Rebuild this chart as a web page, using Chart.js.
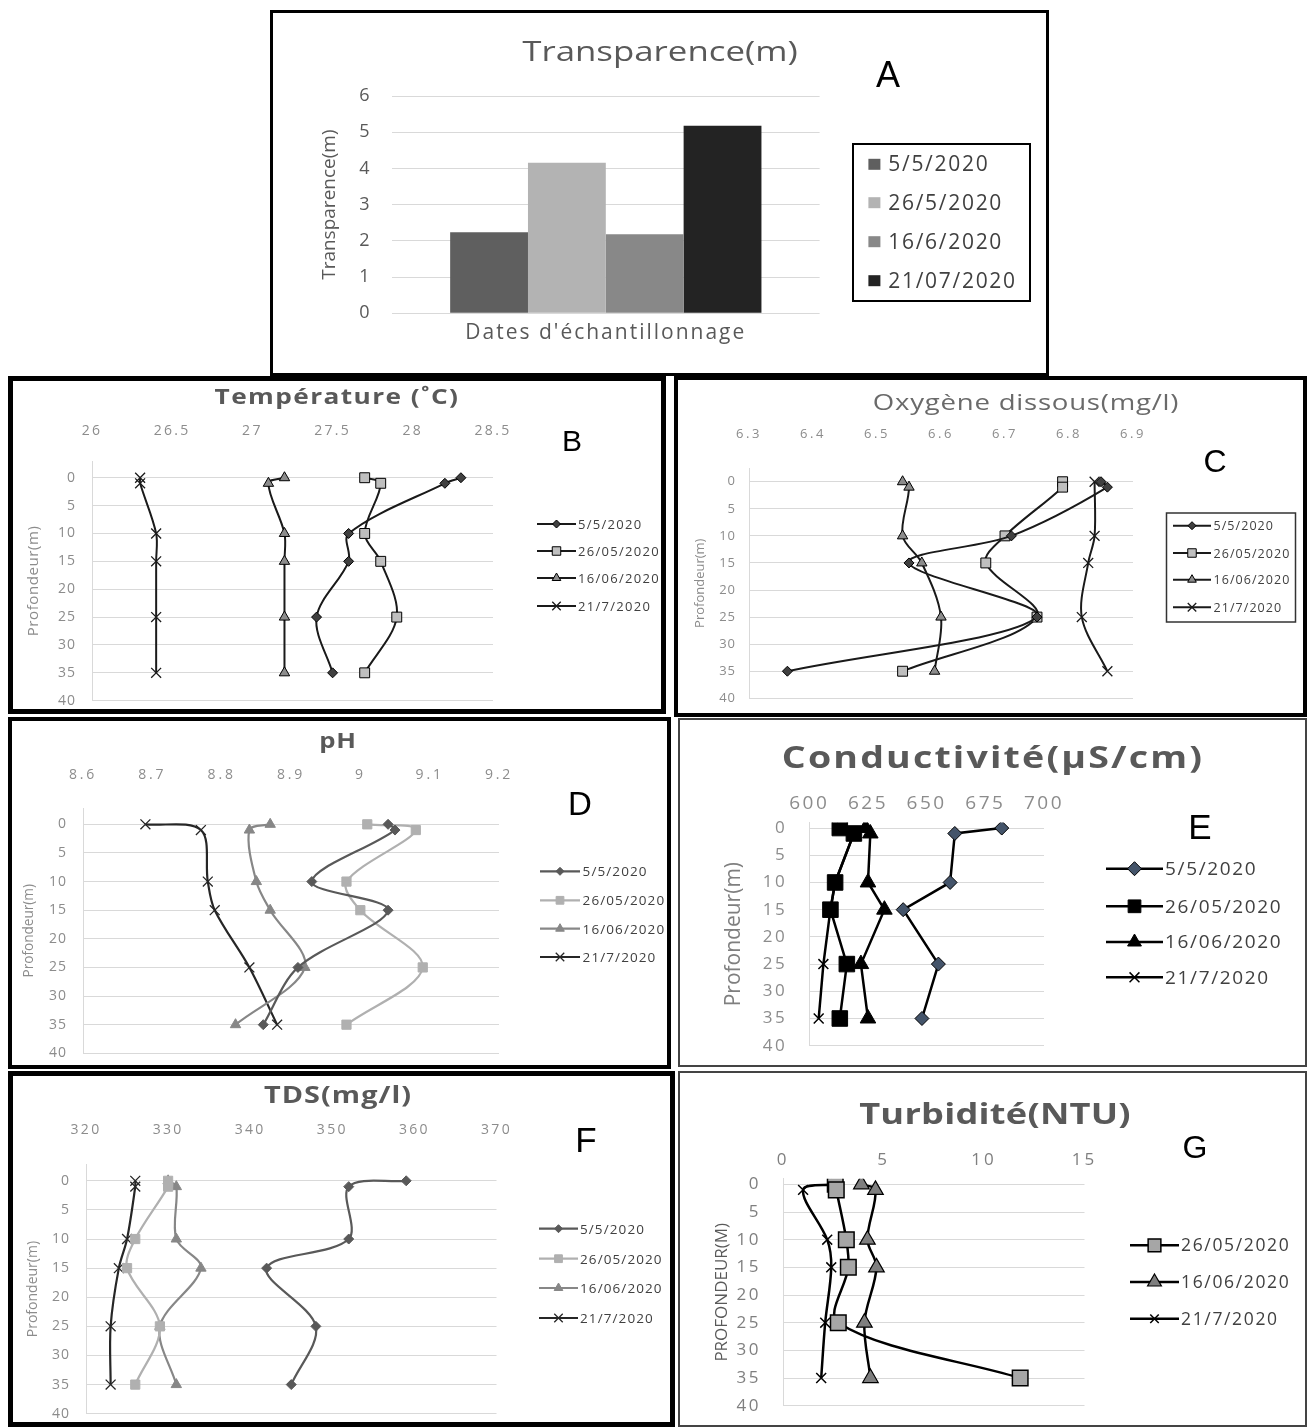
<!DOCTYPE html>
<html>
<head>
<meta charset="utf-8">
<script src="https://cdn.jsdelivr.net/npm/chart.js"></script>
<style>
  html, body { margin: 0; padding: 0; background: #fff; }
  body { width: 1307px; height: 1427px; position: relative; overflow: hidden; font-family: 'Open Sans', sans-serif; }
  .panel { position: absolute; box-sizing: border-box; border-style: solid; border-color: #000; }
  .panel canvas { position: absolute; left: 0; top: 0; }
  .lbl { position: absolute; transform: translate(-50%, -50%); white-space: nowrap; line-height: 1; color: #595959; }
  .big { position: absolute; transform: translate(-50%, -50%); line-height: 1; color: #000; font-family: 'Liberation Sans', sans-serif; }
</style>
</head>
<body>

<div class="panel" style="left:270px;top:10px;width:779px;height:366px;border-width:3px"><canvas id="cA" width="773" height="360"></canvas></div>
<div class="panel" style="left:8px;top:376px;width:658px;height:338px;border-width:5px"><canvas id="cB" width="648" height="328"></canvas></div>
<div class="panel" style="left:674px;top:376px;width:633px;height:341px;border-width:4px"><canvas id="cC" width="625" height="333"></canvas></div>
<div class="panel" style="left:8px;top:717px;width:663px;height:352px;border-width:4px"><canvas id="cD" width="655" height="344"></canvas></div>
<div class="panel" style="left:678px;top:718px;width:629px;height:349px;border-width:2px;border-color:#444"><canvas id="cE" width="625" height="345"></canvas></div>
<div class="panel" style="left:8px;top:1071px;width:667px;height:356px;border-width:5px"><canvas id="cF" width="657" height="346"></canvas></div>
<div class="panel" style="left:678px;top:1071px;width:629px;height:356px;border-width:2px;border-color:#444"><canvas id="cG" width="625" height="352"></canvas></div>

<div class="lbl" style="left:660px;top:50px;font-size:28px" data-w="276">Transparence(m)</div>
<div class="big" style="left:888px;top:75px;font-size:36px">A</div>
<div class="lbl" style="left:337px;top:396px;font-size:21px;font-weight:bold" data-w="245">Température (˚C)</div>
<div class="big" style="left:572px;top:441px;font-size:30px">B</div>
<div class="lbl" style="left:1026px;top:401px;font-size:22px;color:#6a6a6a" data-w="306">Oxygène dissous(mg/l)</div>
<div class="big" style="left:1215px;top:461px;font-size:32px">C</div>
<div class="lbl" style="left:338px;top:740px;font-size:21px;font-weight:bold" data-w="38">pH</div>
<div class="big" style="left:580px;top:803px;font-size:33px">D</div>
<div class="lbl" style="left:993px;top:757px;font-size:30px;font-weight:bold" data-w="422">Conductivité(µS/cm)</div>
<div class="big" style="left:1200px;top:826px;font-size:35px">E</div>
<div class="lbl" style="left:338px;top:1094px;font-size:23px;font-weight:bold" data-w="148">TDS(mg/l)</div>
<div class="big" style="left:586px;top:1139px;font-size:35px">F</div>
<div class="lbl" style="left:995px;top:1112px;font-size:29px;font-weight:bold" data-w="272">Turbidité(NTU)</div>
<div class="big" style="left:1195px;top:1147px;font-size:32px">G</div>

<script>
// profondeurs de prélèvement (m)
const depths = [0, 1, 10, 15, 25, 35];
const depthTicks = [0, 5, 10, 15, 20, 25, 30, 35, 40];
const profileDates = ['5/5/2020', '26/05/2020', '16/06/2020', '21/7/2020'];

// A - transparence
const transDates = ['5/5/2020', '26/5/2020', '16/6/2020', '21/07/2020'];
const transValues = [2.24, 4.16, 2.18, 5.18];

// B - température (°C)
const temp0505 = [28.3, 28.2, 27.6, 27.6, 27.4, 27.5];
const temp2605 = [27.7, 27.8, 27.7, 27.8, 27.9, 27.7];
const temp1606 = [27.2, 27.1, 27.2, 27.2, 27.2, 27.2];
const temp2107 = [26.3, 26.3, 26.4, 26.4, 26.4, 26.4];

// C - oxygène dissous (mg/l)
const oxy0505 = [6.85, 6.86, 6.71, 6.55, 6.75, 6.36];
const oxy2605 = [6.79, 6.79, 6.70, 6.67, 6.75, 6.54];
const oxy1606 = [6.54, 6.55, 6.54, 6.57, 6.60, 6.59];
const oxy2107 = [6.84, null, 6.84, 6.83, 6.82, 6.86];

// D - pH
const ph0505 = [9.04, 9.05, 8.93, 9.04, 8.91, 8.86];
const ph2605 = [9.01, 9.08, 8.98, 9.00, 9.09, 8.98];
const ph1606 = [8.87, 8.84, 8.85, 8.87, 8.92, 8.82];
const ph2107 = [8.69, 8.77, 8.78, 8.79, 8.84, 8.88];

// E - conductivité (µS/cm)
const cond0505 = [682, 662, 660, 640, 655, 648];
const cond2605 = [613, 619, 611, 609, 616, 613];
const cond1606 = [624, 626, 625, 632, 622, 625];
const cond2107 = [614, 619, 611, 609, 606, 604];

// F - TDS (mg/l)
const tds0505 = [359, 352, 352, 342, 348, 345];
const tds2605 = [330, 330, 326, 325, 329, 326];
const tds1606 = [330, 331, 331, 334, 329, 331];
const tds2107 = [326, 326, 325, 324, 323, 323];

// G - turbidité (NTU)
const turb2605 = [2.6, 2.65, 3.15, 3.25, 2.75, 11.8];
const turb1606 = [3.9, 4.6, 4.2, 4.65, 4.05, 4.35];
const turb2107 = [2.65, 1.0, 2.2, 2.4, 2.1, 1.9];

const FONT = "'Open Sans', sans-serif";
const GRID = '#d9d9d9';
Chart.defaults.font.family = FONT;

// espacement des lettres (les textes de la figure sont étirés)
const baseLabels = Chart.Scale.prototype.drawLabels;
Chart.Scale.prototype.drawLabels = function (area) {
  this.ctx.save();
  this.ctx.letterSpacing = (this.options.ticks.spacing || 0) + 'px';
  baseLabels.call(this, area);
  this.ctx.restore();
};
const baseTitle = Chart.Scale.prototype.drawTitle;
Chart.Scale.prototype.drawTitle = function () {
  this.ctx.save();
  this.ctx.letterSpacing = (this.options.title.spacing || 0) + 'px';
  baseTitle.call(this);
  this.ctx.restore();
};

// légende dessinée à droite, à position fixe
function sideLegend(L) {
  return {
    id: 'sideLegend',
    afterDraw(chart) {
      const ctx = chart.ctx;
      ctx.save();
      if (L.frame) {
        ctx.lineWidth = L.frameW;
        ctx.strokeStyle = L.frameColor || '#000';
        ctx.strokeRect(L.frame[0], L.frame[1], L.frame[2], L.frame[3]);
      }
      ctx.font = L.font + 'px ' + FONT;
      ctx.textBaseline = 'middle';
      ctx.letterSpacing = L.spacing + 'px';
      chart.data.datasets.forEach((ds, i) => {
        const y = L.rows[i];
        if (L.swatch) {
          ctx.fillStyle = ds.backgroundColor;
          ctx.fillRect(L.x, y - L.swatch / 2, L.swatch + 1, L.swatch);
        } else {
          ctx.strokeStyle = ds.borderColor;
          ctx.lineWidth = ds.borderWidth;
          ctx.beginPath();
          ctx.moveTo(L.x, y);
          ctx.lineTo(L.x + L.len, y);
          ctx.stroke();
          ctx.fillStyle = ds.pointBackgroundColor;
          ctx.strokeStyle = ds.pointBorderColor;
          ctx.lineWidth = ds.pointBorderWidth;
          Chart.helpers.drawPoint(ctx, {
            pointStyle: ds.pointStyle, radius: ds.legendRadius, rotation: 0, borderWidth: ds.pointBorderWidth
          }, L.x + L.len / 2, y);
        }
        ctx.fillStyle = L.color;
        ctx.fillText(ds.label, L.textX, y + 1);
      });
      ctx.restore();
    }
  };
}

function series(label, vals, s) {
  const pts = [];
  depths.forEach((d, i) => { if (vals[i] != null) pts.push({ x: vals[i], y: d }); });
  return {
    label,
    data: pts,
    showLine: true, fill: false,
    borderColor: s.line, borderWidth: s.lw, tension: s.t,
    pointStyle: s.ps, pointRadius: s.r, pointHoverRadius: s.r,
    pointBackgroundColor: s.fill, pointBorderColor: s.edge, pointBorderWidth: s.bw,
    legendRadius: s.lr
  };
}

const fmt = v => String(Math.round(v * 100) / 100);

function profileChart(id, c) {
  new Chart(document.getElementById(id), {
    type: 'scatter',
    data: { datasets: c.datasets },
    options: {
      responsive: false,
      animation: false,
      events: [],
      layout: { padding: { left: 0, top: 0, right: c.padR, bottom: c.padB } },
      plugins: { legend: { display: false }, tooltip: { enabled: false } },
      scales: {
        x: {
          type: 'linear', position: 'top', min: c.xMin, max: c.xMax,
          grid: { display: false, drawTicks: false },
          border: { display: false },
          ticks: { stepSize: c.xStep, autoSkip: false, maxRotation: 0, callback: fmt,
                   color: c.tickColor || '#8c8c8c', font: { size: c.xFont }, padding: c.xPad, spacing: c.xSp },
          afterFit: s => { s.height = c.xH; s.paddingLeft = 0; s.paddingRight = 0; }
        },
        y: {
          type: 'linear', reverse: true, min: c.yMin, max: 40,
          afterBuildTicks: s => { s.ticks = depthTicks.map(v => ({ value: v })); },
          grid: { color: GRID, drawTicks: false },
          border: { color: GRID },
          ticks: { autoSkip: false, color: c.tickColor || '#8c8c8c',
                   font: { size: c.yFont }, padding: c.yPad, spacing: c.ySp },
          title: { display: true, text: c.yTitle, color: c.titleColor || '#8c8c8c',
                   font: { size: c.tFont }, padding: { top: c.tPad, bottom: 0 }, spacing: c.tSp || 0 },
          afterFit: s => { s.width = c.yW; s.paddingTop = 0; s.paddingBottom = 0; }
        }
      }
    },
    plugins: [sideLegend(c.legend)]
  });
}

// styles des marqueurs (tracés noirs, B et C)
const blackSet = [
  { line: '#1a1a1a', lw: 2, t: 0.33, ps: 'rectRot', r: 5, fill: '#404040', edge: '#000', bw: 1, lr: 4 },
  { line: '#1a1a1a', lw: 2, t: 0.33, ps: 'rect', r: 7, fill: '#bfbfbf', edge: '#000', bw: 1, lr: 6 },
  { line: '#1a1a1a', lw: 2, t: 0.33, ps: 'triangle', r: 6, fill: '#8c8c8c', edge: '#000', bw: 1, lr: 5 },
  { line: '#1a1a1a', lw: 2, t: 0.33, ps: 'crossRot', r: 7, fill: '#000', edge: '#1a1a1a', bw: 1.3, lr: 6 }
];
// tracés en gris (D et F)
const greySet = [
  { line: '#595959', lw: 2.2, t: 0.33, ps: 'rectRot', r: 5, fill: '#595959', edge: '#595959', bw: 1, lr: 4 },
  { line: '#b0b0b0', lw: 2.2, t: 0.33, ps: 'rect', r: 6.5, fill: '#b0b0b0', edge: '#b0b0b0', bw: 1, lr: 5.5 },
  { line: '#878787', lw: 2.2, t: 0.33, ps: 'triangle', r: 6, fill: '#878787', edge: '#878787', bw: 1, lr: 5 },
  { line: '#262626', lw: 2.2, t: 0.33, ps: 'crossRot', r: 7, fill: '#262626', edge: '#262626', bw: 1.3, lr: 6 }
];
const condSet = [
  { line: '#000', lw: 2.5, t: 0, ps: 'rectRot', r: 7, fill: '#44546a', edge: '#000', bw: 1, lr: 7 },
  { line: '#000', lw: 2.5, t: 0, ps: 'rect', r: 11, fill: '#000', edge: '#000', bw: 1, lr: 9 },
  { line: '#000', lw: 2.5, t: 0, ps: 'triangle', r: 9, fill: '#000', edge: '#000', bw: 1, lr: 8 },
  { line: '#000', lw: 2.5, t: 0, ps: 'crossRot', r: 7, fill: '#000', edge: '#000', bw: 1.5, lr: 7 }
];
const turbSet = [
  { line: '#000', lw: 2.5, t: 0.33, ps: 'rect', r: 11, fill: '#a6a6a6', edge: '#000', bw: 1.5, lr: 9 },
  { line: '#000', lw: 2.5, t: 0.33, ps: 'triangle', r: 9, fill: '#7f7f7f', edge: '#000', bw: 1.2, lr: 8 },
  { line: '#000', lw: 2.5, t: 0.33, ps: 'crossRot', r: 7, fill: '#000', edge: '#000', bw: 1.5, lr: 6 }
];

// A - histogramme
const barColors = ['#5f5f5f', '#b3b3b3', '#888888', '#232323'];
new Chart(document.getElementById('cA'), {
  type: 'bar',
  data: {
    labels: ["Dates d'échantillonnage"],
    datasets: transDates.map((d, i) => ({
      label: d, data: [transValues[i]], backgroundColor: barColors[i],
      categoryPercentage: 0.728, barPercentage: 1
    }))
  },
  options: {
    responsive: false,
    animation: false,
    events: [],
    layout: { padding: { left: 0, top: 83, right: 226.4, bottom: 0 } },
    plugins: { legend: { display: false }, tooltip: { enabled: false } },
    scales: {
      x: {
        grid: { display: false, drawTicks: false }, border: { display: false },
        ticks: { color: '#595959', font: { size: 21 }, padding: 7.2, spacing: 2 },
        afterFit: s => { s.height = 59.7; }
      },
      y: {
        min: 0, max: 6,
        grid: { color: GRID, drawTicks: false }, border: { display: false },
        ticks: { stepSize: 1, color: '#595959', font: { size: 18 }, padding: 22.5 },
        title: { display: true, text: 'Transparence(m)', color: '#595959', font: { size: 19 }, padding: { top: 45.3, bottom: 0 } },
        afterFit: s => { s.width = 119; }
      }
    }
  },
  plugins: [sideLegend({
    swatch: 11, x: 595.4, textX: 615.3, rows: [151.3, 189.7, 228.7, 267.7],
    font: 21, spacing: 1.7, color: '#404040',
    frame: [580, 131, 177, 157], frameW: 2, frameColor: '#000'
  })]
});

// B - température
profileChart('cB', {
  datasets: [temp0505, temp2605, temp1606, temp2107].map((v, i) => series(profileDates[i], v, blackSet[i])),
  xMin: 26, xMax: 28.5, xStep: 0.5, xH: 80, xFont: 14, xPad: 21.6, xSp: 2.3,
  yMin: -3, yW: 79, yFont: 14, yPad: 16, ySp: 1,
  yTitle: 'Profondeur(m)', tFont: 15, tPad: 12, tSp: 0.6,
  padR: 168, padB: 8.3,
  legend: { x: 524, len: 39, textX: 565, rows: [143, 170, 197, 225], font: 13, spacing: 1.3, color: '#404040' }
});

// C - oxygène dissous
profileChart('cC', {
  datasets: [oxy0505, oxy2605, oxy1606, oxy2107].map((v, i) => series(profileDates[i], v, blackSet[i])),
  xMin: 6.3, xMax: 6.9, xStep: 0.1, xH: 88.2, xFont: 13, xPad: 26.4, xSp: 2.6,
  yMin: -2.5, yW: 71, yFont: 13, yPad: 13, ySp: 1,
  yTitle: 'Profondeur(m)', tFont: 13, tPad: 14.2,
  padR: 170, padB: 14.7,
  legend: { x: 495, len: 38, textX: 535.5, rows: [145.7, 173, 199.7, 227.3], font: 12.5, spacing: 1.06, color: '#404040',
            frame: [488.5, 133, 129, 109], frameW: 1.5, frameColor: '#333' }
});

// D - pH
profileChart('cD', {
  datasets: [ph0505, ph2605, ph1606, ph2107].map((v, i) => series(profileDates[i], v, greySet[i])),
  xMin: 8.6, xMax: 9.2, xStep: 0.1, xH: 87.3, xFont: 14, xPad: 24.9, xSp: 2.8,
  yMin: -2.8, yW: 71, yFont: 14, yPad: 16, ySp: 1,
  yTitle: 'Profondeur(m)', tFont: 13.6, tPad: 8.8,
  padR: 168, padB: 11.7,
  legend: { x: 528, len: 40, textX: 570.6, rows: [150.3, 179.3, 207.7, 236], font: 13.5, spacing: 1.1, color: '#404040' }
});

// E - conductivité
profileChart('cE', {
  datasets: [cond0505, cond2605, cond1606, cond2107].map((v, i) => series(profileDates[i], v, condSet[i])),
  xMin: 600, xMax: 700, xStep: 25, xH: 102.6, xFont: 19, xPad: 7.9, xSp: 2.5,
  yMin: -1, yW: 129.3, yFont: 17, yPad: 22, ySp: 2.5,
  yTitle: 'Profondeur(m)', tFont: 21, tPad: 41.4, titleColor: '#7f7f7f',
  padR: 261, padB: 19.3,
  legend: { x: 426, len: 57, textX: 485, rows: [148.7, 186.3, 222, 257.3], font: 19, spacing: 1.65, color: '#404040' }
});

// F - TDS
profileChart('cF', {
  datasets: [tds0505, tds2605, tds1606, tds2107].map((v, i) => series(profileDates[i], v, greySet[i])),
  xMin: 320, xMax: 370, xStep: 10, xH: 88.5, xFont: 14, xPad: 26.1, xSp: 2.3,
  yMin: -2.8, yW: 73, yFont: 14, yPad: 16, ySp: 1,
  yTitle: 'Profondeur(m)', tFont: 14, tPad: 11.6,
  padR: 173.5, padB: 5.3,
  legend: { x: 526, len: 39, textX: 567, rows: [152.7, 182.7, 212, 242], font: 13.5, spacing: 1.1, color: '#404040' }
});

// G - turbidité (pas de mesure le 5/5/2020)
profileChart('cG', {
  datasets: [turb2605, turb1606, turb2107].map((v, i) => series(profileDates[i + 1], v, turbSet[i])),
  xMin: 0, xMax: 15, xStep: 5, xH: 105.8, xFont: 17, xPad: 8.6, xSp: 3,
  yMin: -1, yW: 103, yFont: 17, yPad: 22, ySp: 2.5,
  yTitle: 'PROFONDEUR(M)', tFont: 17, tPad: 31.8, titleColor: '#595959', tickColor: '#7f7f7f',
  padR: 220.5, padB: 19.3,
  legend: { x: 450, len: 49, textX: 501, rows: [172.3, 209, 245.7], font: 17.5, spacing: 1.65, color: '#404040' }
});

// titres : étirement horizontal (comme la figure) puis espacement pour la largeur
document.querySelectorAll('[data-w]').forEach(el => {
  const target = +el.dataset.w;
  const n = el.textContent.length;
  const maxStretch = 1.25;
  let natural = el.offsetWidth;
  if (target / natural > maxStretch) {
    el.style.letterSpacing = ((target / maxStretch - natural) / n) + 'px';
    natural = el.offsetWidth;
  }
  el.style.transform = 'translate(-50%, -50%) scaleX(' + (target / natural) + ')';
});
</script>
</body>
</html>
